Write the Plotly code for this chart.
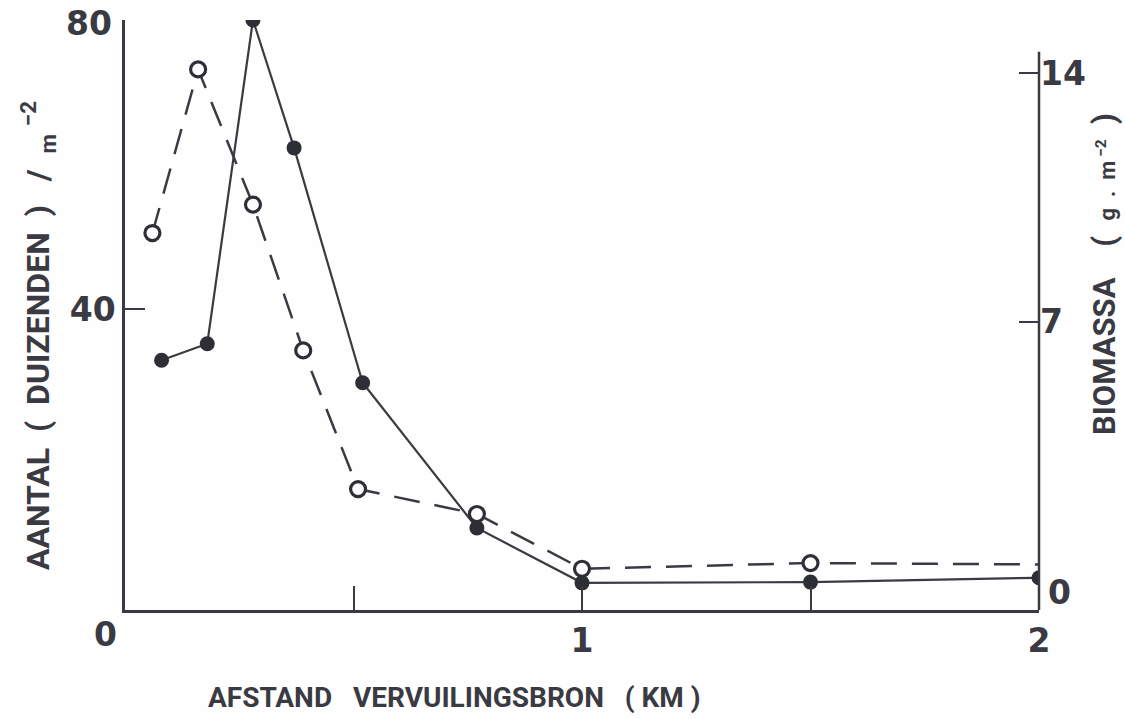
import plotly.graph_objects as go

# Distance from pollution source (km)
x_aantal = [0.08, 0.18, 0.28, 0.37, 0.52, 0.77, 1.0, 1.5, 2.0]
aantal = [32.9, 35.2, 80.0, 62.3, 29.8, 9.7, 2.1, 2.2, 2.8]  # duizenden / m-2

x_biomassa = [0.06, 0.16, 0.28, 0.39, 0.51, 0.77, 1.0, 1.5, 2.0]
biomassa = [9.5, 14.1, 10.3, 6.2, 2.3, 1.6, 0.06, 0.22, 0.18]  # g.m-2
biomassa_marker_size = [15, 15, 15, 15, 15, 15, 15, 15, 0]

left_ticks = [40, 80]
left_ticktext = ["40", ""]   # "80" is written as a label at the top corner
right_ticks = [7, 14]
x_ticks = [0.5, 1, 1.5, 2]
x_ticktext = ["", "1", "", "2"]

INK = "#3a3a42"
BG = "#fefefe"
NUMFONT = dict(family="DejaVu Sans", size=33, color=INK, weight="bold")
TITLEFONT = dict(family="Roboto, Liberation Sans, sans-serif", size=30, color=INK, weight="bold")

W, H = 1125, 719
PL, PR, PT, PB = 125, 1039, 20, 610  # plot-area edges in page pixels
PW, PH = PR - PL, PB - PT


def px(xp):
    return (xp - PL) / PW


def py(yp):
    return (PB - yp) / PH


fig = go.Figure()

fig.add_trace(go.Scatter(
    x=x_aantal, y=aantal, mode="lines+markers", yaxis="y",
    line=dict(color=INK, width=2.2),
    marker=dict(symbol="circle", size=15, color="#2e2e36", opacity=1, line=dict(width=0)),
    showlegend=False,
))
fig.add_trace(go.Scatter(
    x=x_biomassa, y=biomassa, mode="lines+markers", yaxis="y2",
    line=dict(color=INK, width=2.5, dash="26px,15px"),
    marker=dict(symbol="circle", size=biomassa_marker_size, color=BG, opacity=1,
                line=dict(width=3.2, color="#2e2e36")),
    showlegend=False,
))

fig.update_layout(
    width=W, height=H,
    margin=dict(l=PL, r=W - PR, t=PT, b=H - PB),
    paper_bgcolor=BG, plot_bgcolor=BG,
    xaxis=dict(range=[0, 2], tickvals=x_ticks, ticktext=x_ticktext, ticks="inside", ticklen=24,
               tickwidth=2.2, tickcolor=INK, showline=True, linecolor=INK, linewidth=2.5,
               showgrid=False, zeroline=False, tickfont=NUMFONT, automargin=False),
    yaxis=dict(range=[-1.66, 80], tickvals=left_ticks, ticktext=left_ticktext, ticks="inside",
               ticklen=20, tickwidth=2.2, tickcolor=INK, showline=True, linecolor=INK, linewidth=2.5,
               showgrid=False, zeroline=False, tickfont=NUMFONT, automargin=False),
    yaxis2=dict(range=[-1.1, 15.49], overlaying="y", side="right", tickvals=right_ticks,
                ticks="inside", ticklen=20, tickwidth=2.2, tickcolor=INK, showline=False,
                showgrid=False, zeroline=False, tickfont=NUMFONT, automargin=False),
)

# right axis line (shorter than plot height, as in the original)
fig.add_shape(type="line", xref="paper", yref="y2", x0=1, x1=1, y0=-1.1, y1=14.6,
              line=dict(color=INK, width=2.5))

# corner labels
fig.add_annotation(text="80", xref="paper", yref="paper", x=px(114), y=py(23), xanchor="right",
                   yanchor="middle", showarrow=False, font=NUMFONT)
fig.add_annotation(text="0", xref="paper", yref="paper", x=px(105), y=py(635),
                   showarrow=False, font=NUMFONT, xanchor="center", yanchor="middle")
fig.add_annotation(text="0", xref="paper", yref="paper", x=px(1059), y=py(592),
                   showarrow=False, font=NUMFONT, xanchor="center", yanchor="middle")

# axis titles
fig.add_annotation(text="AFSTAND   VERVUILINGSBRON   ( KM )", xref="paper", yref="paper",
                   x=px(454), y=py(697), showarrow=False, font=dict(TITLEFONT, size=28),
                   xanchor="center", yanchor="middle")
fig.add_annotation(text="AANTAL  (  DUIZENDEN  )   /  <sub>m</sub> <sup>−2</sup>",
                   xref="paper", yref="paper",
                   x=px(38), y=py(336), showarrow=False, font=dict(TITLEFONT, size=32),
                   textangle=-90, xanchor="center", yanchor="middle")
fig.add_annotation(text="BIOMASSA    (  <span style='font-size:22px'>g  .  m<sup> −2</sup></span>  )",
                   xref="paper", yref="paper",
                   x=px(1104), y=py(274), showarrow=False, font=dict(TITLEFONT, size=31),
                   textangle=-90, xanchor="center", yanchor="middle")

# the page body has a default 8px margin; remove it so the figure fills the window exactly
fig.write_html("out.html", config={"displayModeBar": False},
               post_script="document.body.style.margin='0px';")
